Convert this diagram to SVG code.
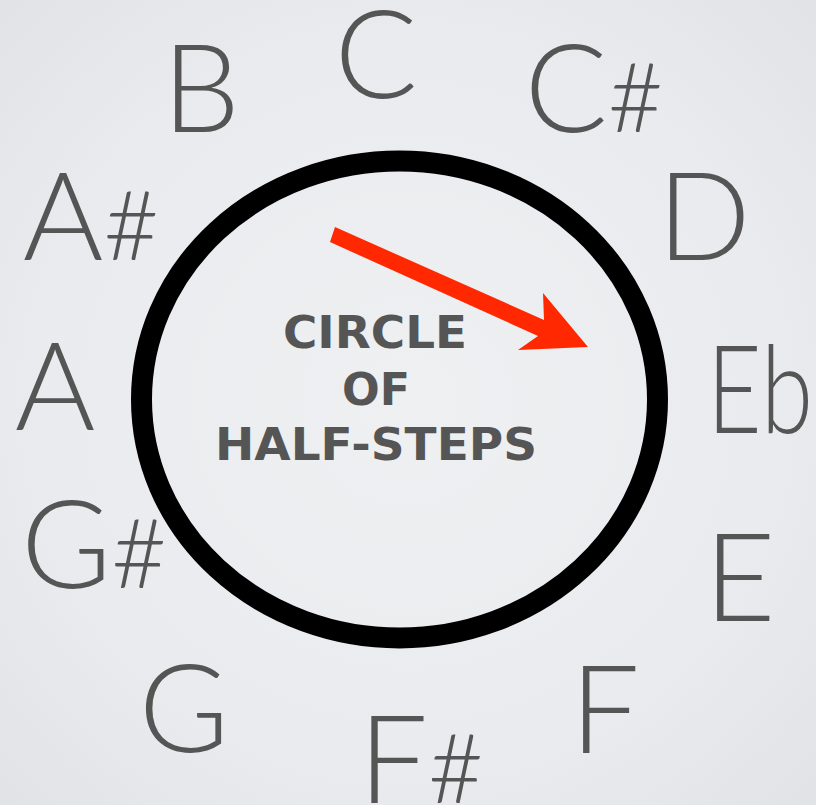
<svg xmlns="http://www.w3.org/2000/svg" width="816" height="805" viewBox="0 0 816 805">
<defs>
<radialGradient id="bg" cx="50%" cy="50%" r="75%">
<stop offset="0" stop-color="#eff0f2"/>
<stop offset="0.6" stop-color="#eaebee"/>
<stop offset="1" stop-color="#dfe1e4"/>
</radialGradient>
<style>
.note{font-family:Lato,"Open Sans","DejaVu Sans",sans-serif;font-weight:300;font-size:123px;fill:#555555;text-anchor:middle}
.sh{font-size:96px}
.title{font-family:"DejaVu Sans","Liberation Sans",sans-serif;font-weight:bold;font-size:44px;fill:#555555;text-anchor:middle}
</style>
</defs>
<rect width="816" height="805" fill="url(#bg)"/>
<g id="circle"><ellipse cx="399.5" cy="399.5" rx="258" ry="238.5" fill="none" stroke="#000" stroke-width="21"/></g>
<g id="connectors"><polygon points="335,227 544,320 543,293 588,347 518,350 538,336 330,242" fill="#ff2800"/></g>
<g id="title">
<text class="title" x="375" y="348" textLength="184" lengthAdjust="spacingAndGlyphs">CIRCLE</text>
<text class="title" x="376" y="405" textLength="68" lengthAdjust="spacingAndGlyphs">OF</text>
<text class="title" x="376" y="460" textLength="322" lengthAdjust="spacingAndGlyphs">HALF-STEPS</text>
</g>
<g id="note-C"><text class="note" x="376" y="98">C</text></g>
<g id="note-Cs"><text class="note" x="594" y="132">C<tspan class="sh">#</tspan></text></g>
<g id="note-D"><text class="note" x="704" y="260">D</text></g>
<g id="note-Eb"><text class="note" x="760" y="433" textLength="106" lengthAdjust="spacingAndGlyphs">Eb</text></g>
<g id="note-E"><text class="note" x="740" y="621">E</text></g>
<g id="note-F"><text class="note" x="605" y="753">F</text></g>
<g id="note-Fs"><text class="note" x="421" y="803">F<tspan class="sh">#</tspan></text></g>
<g id="note-G"><text class="note" x="184" y="752">G</text></g>
<g id="note-Gs"><text class="note" x="94" y="588">G<tspan class="sh">#</tspan></text></g>
<g id="note-A"><text class="note" x="55" y="430">A</text></g>
<g id="note-As"><text class="note" x="91" y="260">A<tspan class="sh">#</tspan></text></g>
<g id="note-B"><text class="note" x="201" y="132">B</text></g>
</svg>
